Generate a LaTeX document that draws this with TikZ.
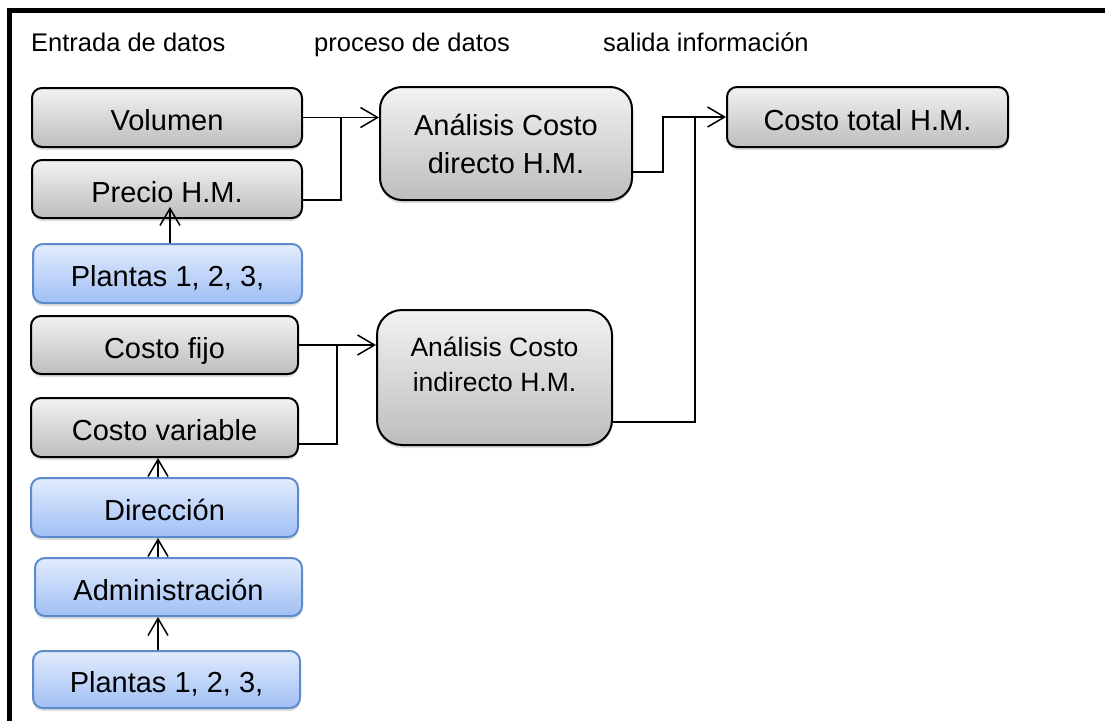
\documentclass[tikz,border=0pt]{standalone}
\usepackage{fontspec}
\setmainfont{Liberation Sans}
\usetikzlibrary{arrows.meta,shadows,calc}
\definecolor{gtop}{HTML}{F2F2F2}
\definecolor{gbot}{HTML}{BDBDBD}
\definecolor{btop}{HTML}{E2ECFD}
\definecolor{bbot}{HTML}{A0BFF4}
\definecolor{bdraw}{HTML}{5B8BCB}
\tikzset{
  basebox/.style={rectangle, rounded corners=10pt, line width=2pt, inner sep=0pt,
    drop shadow={shadow xshift=0pt, shadow yshift=-3pt, opacity=0.25}},
  graybox/.style={basebox, draw=black, top color=gtop, bottom color=gbot},
  bluebox/.style={basebox, draw=bdraw, top color=btop, bottom color=bbot},
  boxtext/.style={font=\fontsize{29}{34}\selectfont, text height=26pt, text depth=0pt},
  conn/.style={line width=1.5pt, draw=black},
  arr/.style={conn, -{Straight Barb[length=17pt,width=20pt,line width=1.5pt]}},
  header/.style={font=\fontsize{25.5}{30}\selectfont, anchor=base west, inner sep=0pt},
}
\begin{document}
\begin{tikzpicture}[x=1pt,y=-1pt]
\useasboundingbox (0,0) rectangle (1105,720);
% frame
\draw[line width=4.5pt] (1130,10.5) -- (9.5,10.5) -- (9.5,740);
% headers
\node[header] (h1) at (31,51) {Entrada de datos};
\node[header] (h2) at (314,51) {proceso de datos};
\node[header] (h3) at (603,51) {salida información};
% left column
\node[graybox, boxtext, minimum width=270pt, minimum height=59pt] (vol) at (167,117.5) {Volumen};
\node[graybox, boxtext, minimum width=270pt, minimum height=58pt] (precio) at (167,189) {Precio H.M.};
\node[bluebox, boxtext, minimum width=269pt, minimum height=59pt] (pl1) at (167.5,273.5) {Plantas 1, 2, 3,};
\node[graybox, boxtext, minimum width=267pt, minimum height=58pt] (fijo) at (164.5,345) {Costo fijo};
\node[graybox, boxtext, minimum width=267pt, minimum height=59pt] (var) at (164.5,427.5) {Costo variable};
\node[bluebox, boxtext, minimum width=267pt, minimum height=59pt] (dir) at (164.5,507.5) {Dirección};
\node[bluebox, boxtext, minimum width=267pt, minimum height=58pt] (adm) at (168.5,587) {Administración};
\node[bluebox, boxtext, minimum width=267pt, minimum height=57pt] (pl2) at (166.5,679.5) {Plantas 1, 2, 3,};
% process boxes
\node[graybox, rounded corners=22pt, minimum width=252pt, minimum height=113pt, align=center,
  font=\fontsize{29}{38}\selectfont] (ad) at (506,143.5) {Análisis Costo\\directo H.M.};
\node[graybox, rounded corners=25pt, minimum width=235pt, minimum height=135pt] (ai) at (494.5,377.5) {};
\node[align=center, inner sep=0pt, font=\fontsize{26.5}{35}\selectfont] (ait) at (494.5,364.5) {Análisis Costo\\indirecto H.M.};
% output
\node[graybox, boxtext, minimum width=281pt, minimum height=60pt] (ct) at (867.5,117) {Costo total H.M.};
% connectors top group
\coordinate (j1) at (341,117.5);
\draw[arr] (vol.east) -- (ad.west |- vol.east);
\draw[conn] ([yshift=-11pt]precio.east) -| (j1);
\coordinate (p1t) at (170,207);
\draw[arr] (pl1.north -| p1t) -- (p1t);
% connectors second group
\coordinate (j2) at (337,345);
\draw[arr] (fijo.east) -- (ai.west |- fijo.east);
\draw[conn] ([yshift=-16.5pt]var.east) -| (j2);
\coordinate (vx) at (158,0);
\draw[arr] (dir.north -| vx) -- (var.south -| vx);
\draw[arr] (adm.north -| vx) -- (dir.south -| vx);
\draw[arr] (pl2.north -| vx) -- (adm.south -| vx);
% right connectors
\coordinate (j3) at (663,117);
\coordinate (j4) at (695,117);
\draw[arr] ([yshift=-28.5pt]ad.east) -| (j3) -- (ct.west);
\draw[conn] ([yshift=-44.5pt]ai.east) -| (j4);
\end{tikzpicture}
\end{document}
